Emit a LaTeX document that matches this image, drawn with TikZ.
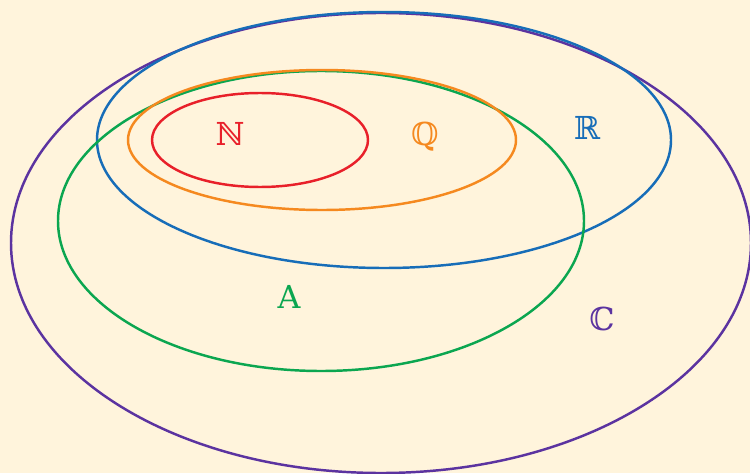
\documentclass[tikz,border=0pt]{standalone}
\usepackage{fontspec}
\setmainfont{DejaVu Serif}
\usepackage{xcolor}
\definecolor{bgcream}{HTML}{FFF4DC}
\definecolor{setC}{HTML}{5B33A0}
\definecolor{setR}{HTML}{176DB8}
\definecolor{setA}{HTML}{0BA650}
\definecolor{setQ}{HTML}{F5891F}
\definecolor{setN}{HTML}{E8202A}
\begin{document}
\begin{tikzpicture}[x=0.02cm,y=-0.02cm,line width=1.4pt,
  setlabel/.style={font=\fontsize{18}{20}\selectfont}]
\fill[bgcream] (0,0) rectangle (750,473);
\clip (0,0) rectangle (750,473);
\draw[setC] (381,243) ellipse [x radius=370, y radius=230];
\draw[setR] (384,140) ellipse [x radius=287, y radius=128];
\draw[setA] (321,221) ellipse [x radius=263, y radius=150];
\draw[setQ] (322,140) ellipse [x radius=194, y radius=70];
\draw[setN] (260,140) ellipse [x radius=108, y radius=47];
\node[setlabel,text=setN] (labN) at (230,134) {ℕ};
\node[setlabel,text=setQ] (labQ) at (425,137) {ℚ};
\node[setlabel,text=setR] (labR) at (587,128) {ℝ};
\node[setlabel,text=setA] (labA) at (289,297) {A};
\node[setlabel,text=setC] (labC) at (602,319) {ℂ};
\end{tikzpicture}
\end{document}
